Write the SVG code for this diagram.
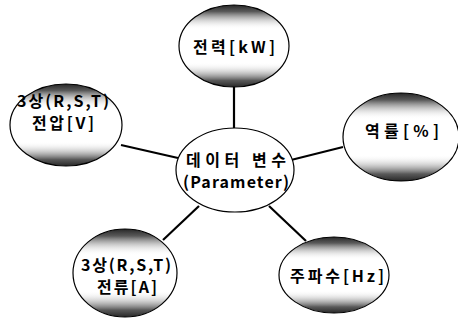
<svg xmlns="http://www.w3.org/2000/svg" width="458" height="320" viewBox="0 0 458 320">
<defs>
<linearGradient id="band" x1="0" y1="0" x2="0" y2="1">
<stop offset="0" stop-color="#000" stop-opacity="0.85"/>
<stop offset="0.08" stop-color="#222" stop-opacity="0.75"/>
<stop offset="0.19" stop-color="#999" stop-opacity="0.4"/>
<stop offset="0.3" stop-color="#fff" stop-opacity="0"/>
<stop offset="0.7" stop-color="#fff" stop-opacity="0"/>
<stop offset="0.81" stop-color="#999" stop-opacity="0.4"/>
<stop offset="0.92" stop-color="#222" stop-opacity="0.75"/>
<stop offset="1" stop-color="#000" stop-opacity="0.85"/>
</linearGradient>
<style>
.outer{fill:#fff;stroke:none}
.shade{fill:url(#band);stroke:#000;stroke-width:1.2}
.center{fill:#fff;stroke:#000;stroke-width:1.2}
.link{stroke:#000;stroke-width:2.2;fill:none}
text{font-family:"Noto Sans CJK KR","Noto Sans",sans-serif;font-weight:bold;font-size:16px;fill:#000;text-anchor:middle}
</style>
</defs>
<g id="connectors">
<line class="link" x1="234" y1="87" x2="234" y2="128"/>
<line class="link" x1="121" y1="145" x2="178" y2="158"/>
<line class="link" x1="291" y1="160" x2="343" y2="147"/>
<line class="link" x1="163" y1="240" x2="199" y2="206"/>
<line class="link" x1="269" y1="206" x2="306" y2="241"/>
</g>
<g id="center">
<ellipse class="center" cx="235" cy="170" rx="59" ry="42"/>
<text x="236" y="166" textLength="100" lengthAdjust="spacing">데이터 변수</text>
<text x="236" y="188" textLength="106" lengthAdjust="spacing">(Parameter)</text>
</g>
<g id="power">
<ellipse class="outer" cx="234" cy="46" rx="55" ry="41"/>
<ellipse class="shade" cx="234" cy="46" rx="55" ry="41"/>
<text x="234" y="53" textLength="82" lengthAdjust="spacing">전력[kW]</text>
</g>
<g id="voltage">
<ellipse class="outer" cx="66" cy="125" rx="56" ry="41"/>
<ellipse class="shade" cx="66" cy="125" rx="56" ry="41"/>
<text x="63" y="107" textLength="92" lengthAdjust="spacing">3상(R,S,T)</text>
<text x="63" y="129" textLength="62" lengthAdjust="spacing">전압[V]</text>
</g>
<g id="powerfactor">
<ellipse class="outer" cx="401" cy="137" rx="58" ry="44"/>
<ellipse class="shade" cx="401" cy="137" rx="58" ry="44"/>
<text x="402" y="137" textLength="74" lengthAdjust="spacing">역률[%]</text>
</g>
<g id="current">
<ellipse class="outer" cx="125" cy="273" rx="52" ry="44"/>
<ellipse class="shade" cx="125" cy="273" rx="52" ry="44"/>
<text x="126" y="271" textLength="90" lengthAdjust="spacing">3상(R,S,T)</text>
<text x="127" y="293" textLength="60" lengthAdjust="spacing">전류[A]</text>
</g>
<g id="frequency">
<ellipse class="outer" cx="334" cy="275" rx="55" ry="38"/>
<ellipse class="shade" cx="334" cy="275" rx="55" ry="38"/>
<text x="337" y="282" textLength="94" lengthAdjust="spacing">주파수[Hz]</text>
</g>
</svg>
